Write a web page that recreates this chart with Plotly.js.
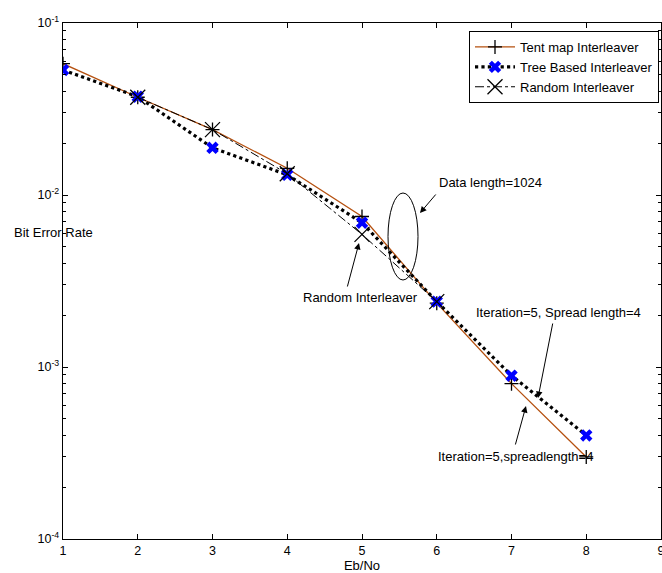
<!DOCTYPE html>
<html>
<head>
<meta charset="utf-8">
<script src="https://cdn.plot.ly/plotly-3.0.1.min.js"></script>
<style>html,body{margin:0;padding:0;background:#fff;}#chart{width:662px;height:573px;}</style>
</head>
<body>
<div id="chart"></div>
<script>
// Data
const ebNo = [1, 2, 3, 4, 5, 6, 7, 8];
const tentMap = [0.058, 0.037, 0.024, 0.0143, 0.0075, 0.00235, 0.00080, 0.00030];
const treeBased = [0.0533, 0.0373, 0.0188, 0.0131, 0.0069, 0.0024, 0.00089, 0.00040];
const ebNoRandom = [2, 3, 4, 5, 6];
const randomIl = [0.037, 0.024, 0.0133, 0.0059, 0.0024];
const seriesNames = ['Tent map Interleaver', 'Tree Based Interleaver', 'Random Interleaver'];
const xTicks = [1, 2, 3, 4, 5, 6, 7, 8, 9];
const yTicks = [1e-4, 1e-3, 1e-2, 1e-1];
const yTickText = ['10<sup>-4</sup>', '10<sup>-3</sup>', '10<sup>-2</sup>', '10<sup>-1</sup>'];

// layout helpers (plot area geometry in pixels)
const L = 63, T = 23, W = 598, H = 516;
const px = x => (x - L) / W;
const py = y => (T + H - y) / H;

const minorVals = [];
for (let e = -4; e < -1; e++) for (let m = 2; m <= 9; m++) minorVals.push(m * Math.pow(10, e));

const font = {family: 'Liberation Sans, Arial, sans-serif', size: 13, color: '#000'};
const tickFont = {family: 'Liberation Sans, Arial, sans-serif', size: 12.5, color: '#000'};

const traces = [
  {x: ebNo, y: tentMap, name: seriesNames[0], mode: 'lines+markers',
   line: {color: '#b5500f', width: 1.3},
   marker: {symbol: 'cross-thin', size: 10, color: '#000', line: {color: '#000', width: 1.3}}},
  {x: ebNo, y: treeBased, name: seriesNames[1], mode: 'lines+markers',
   line: {color: '#000', width: 3.2, dash: 'dot'},
   marker: {symbol: 'x', size: 11, color: '#0000ff', line: {width: 0}}},
  {x: ebNoRandom, y: randomIl, name: seriesNames[2], mode: 'lines+markers',
   line: {color: '#000', width: 1, dash: 'dashdot'},
   marker: {symbol: 'x-thin', size: 15, color: '#000', line: {color: '#000', width: 1.3}}}
];

const arrow = (hx, hy, tx, ty) => ({xref: 'paper', yref: 'paper', x: px(hx), y: py(hy), text: '',
  showarrow: true, arrowhead: 2, arrowsize: 1.3, arrowwidth: 1, arrowcolor: '#000',
  axref: 'pixel', ayref: 'pixel', ax: tx - hx, ay: ty - hy});
const label = (txt, x, y, anchor) => ({xref: 'paper', yref: 'paper', x: px(x), y: py(y), text: txt,
  showarrow: false, xanchor: anchor || 'center', yanchor: 'middle', font: font});

const layout = {
  width: 662, height: 573,
  margin: {l: L, r: 662 - L - W, t: T, b: 573 - T - H, pad: 0},
  paper_bgcolor: '#fff', plot_bgcolor: '#fff',
  font: font,
  showlegend: true,
  legend: {x: px(659), y: py(31), xanchor: 'right', yanchor: 'top', bgcolor: '#fff',
           bordercolor: '#000', borderwidth: 1, font: font, tracegroupgap: 0, itemwidth: 40},
  xaxis: {range: [1, 9], tickvals: xTicks, ticks: 'inside', ticklen: 5, tickcolor: '#000',
          showline: true, linecolor: '#000', linewidth: 1.3, mirror: 'ticks', showgrid: false, zeroline: false,
          tickfont: tickFont, ticklabeloverflow: 'allow', title: {text: 'Eb/No', font: font, standoff: 2}},
  yaxis: {type: 'log', range: [-4, -1], tickvals: yTicks, ticktext: yTickText, ticks: 'inside', ticklen: 5,
          tickcolor: '#000', showline: true, linecolor: '#000', linewidth: 1.3, mirror: 'ticks',
          showgrid: false, zeroline: false, tickfont: tickFont,
          minor: {tickmode: 'array', tickvals: minorVals, ticks: 'inside', ticklen: 3, tickcolor: '#000', showgrid: false}},
  shapes: [{type: 'circle', xref: 'paper', yref: 'paper', x0: px(388), x1: px(418), y0: py(280), y1: py(193),
            line: {color: '#000', width: 1}}],
  annotations: [
    label('Bit Error Rate', 53, 233),
    label('Data length=1024', 437, 182, 'left'),
    arrow(420, 213, 437, 193),
    label('Random Interleaver', 360, 297),
    arrow(359, 243, 347, 288),
    label('Iteration=5, Spread length=4', 558, 312),
    arrow(538, 398, 553, 322),
    label('Iteration=5,spreadlength=4', 595, 457, 'right'),
    arrow(526, 406, 515, 446)
  ]
};

Plotly.newPlot('chart', traces, layout, {displayModeBar: false, staticPlot: true});
</script>
</body>
</html>
